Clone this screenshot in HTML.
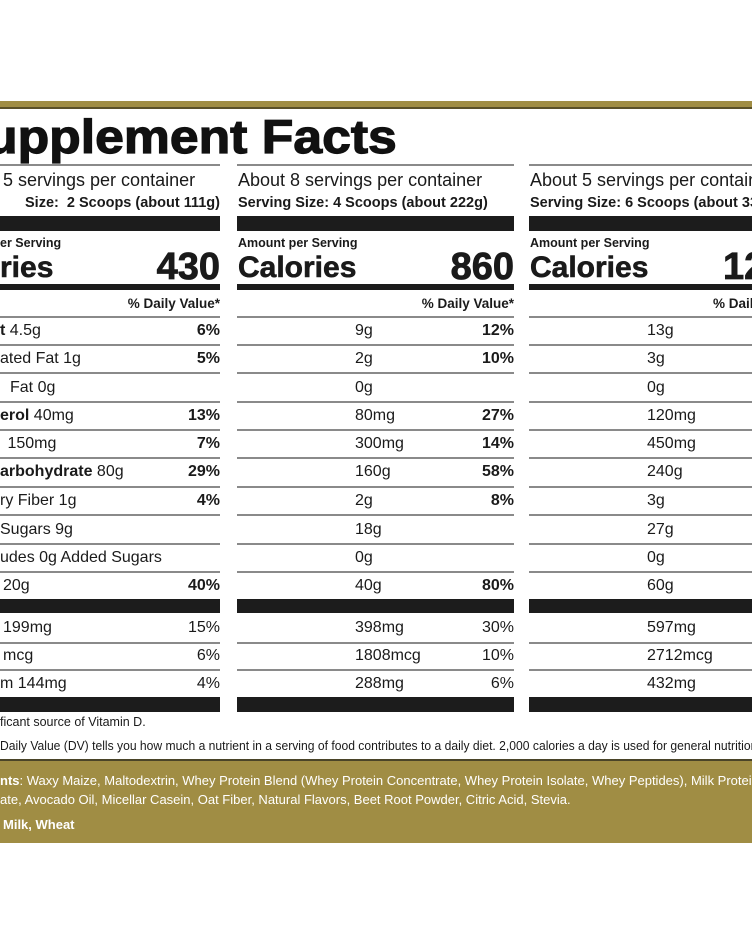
<!DOCTYPE html>
<html><head><meta charset="utf-8"><style>
*{margin:0;padding:0;box-sizing:border-box}
html,body{width:752px;height:940px;overflow:hidden}
body{background:#fff;position:relative;font-family:"Liberation Sans Narrow","Liberation Sans",sans-serif;color:#1a1a1a}
.a{position:absolute;white-space:nowrap}
.bar{position:absolute;background:#1c1c1c}
.ln{position:absolute;height:1.5px;background:#8a8a8a}
.r{text-align:right}
b{font-weight:bold}
.w{position:absolute;left:0;top:0;width:752px;height:940px;overflow:hidden}
</style></head><body>
<div class="w">
<div class="a" style="left:0;top:101px;width:752px;height:8px;background:#a08d44;border-bottom:2px solid #5a5028"></div>
<div class="a r" style="right:355px;top:108px;font-family:'Liberation Sans',sans-serif;font-weight:bold;font-size:47px;line-height:58px;color:#111;transform:scaleX(1.1);transform-origin:right center;-webkit-text-stroke:1.2px #111">Supplement Facts</div>

<!-- column 1 -->
<div class="ln" style="left:0;width:220px;top:164px"></div>
<div class="a" style="left:3px;top:169px;font-size:18px;line-height:22px">5 servings per container</div>
<div class="a r" style="right:532px;top:194px;font-size:14.5px;line-height:18px;font-weight:bold">Size:&nbsp; 2 Scoops (about 111g)</div>
<div class="bar" style="left:0;width:220px;top:216px;height:15px"></div>
<div class="a" style="left:0;top:236px;font-size:12.5px;line-height:15px;font-weight:bold">er Serving</div>
<div class="a" style="left:0;top:250px;font-size:30px;line-height:36px;font-weight:bold;-webkit-text-stroke:0.6px #1a1a1a">ries</div>
<div class="a r" style="right:532px;top:246px;font-size:38px;line-height:42px;font-weight:bold;-webkit-text-stroke:0.8px #1a1a1a">430</div>
<div class="bar" style="left:0;width:220px;top:284px;height:6px"></div>
<div class="a r" style="right:532px;top:295px;font-size:13.5px;line-height:17px;font-weight:bold">% Daily Value*</div>
<div class="ln" style="left:0;width:220px;top:316px"></div>

<!-- column 2 -->
<div class="ln" style="left:237px;width:277px;top:164px"></div>
<div class="a" style="left:238px;top:169px;font-size:18px;line-height:22px">About 8 servings per container</div>
<div class="a" style="left:238px;top:194px;font-size:14.5px;line-height:18px;font-weight:bold">Serving Size: 4 Scoops (about 222g)</div>
<div class="bar" style="left:237px;width:277px;top:216px;height:15px"></div>
<div class="a" style="left:238px;top:236px;font-size:12.5px;line-height:15px;font-weight:bold">Amount per Serving</div>
<div class="a" style="left:238px;top:250px;font-size:30px;line-height:36px;font-weight:bold;-webkit-text-stroke:0.6px #1a1a1a">Calories</div>
<div class="a r" style="right:238px;top:246px;font-size:38px;line-height:42px;font-weight:bold;-webkit-text-stroke:0.8px #1a1a1a">860</div>
<div class="bar" style="left:237px;width:277px;top:284px;height:6px"></div>
<div class="a r" style="right:238px;top:295px;font-size:13.5px;line-height:17px;font-weight:bold">% Daily Value*</div>
<div class="ln" style="left:237px;width:277px;top:316px"></div>

<!-- column 3 -->
<div class="ln" style="left:529px;width:230px;top:164px"></div>
<div class="a" style="left:530px;top:169px;font-size:18px;line-height:22px">About 5 servings per container</div>
<div class="a" style="left:530px;top:194px;font-size:14.5px;line-height:18px;font-weight:bold">Serving Size: 6 Scoops (about 333g)</div>
<div class="bar" style="left:529px;width:230px;top:216px;height:15px"></div>
<div class="a" style="left:530px;top:236px;font-size:12.5px;line-height:15px;font-weight:bold">Amount per Serving</div>
<div class="a" style="left:530px;top:250px;font-size:30px;line-height:36px;font-weight:bold;-webkit-text-stroke:0.6px #1a1a1a">Calories</div>
<div class="a" style="left:723px;top:246px;font-size:38px;line-height:42px;font-weight:bold;-webkit-text-stroke:0.8px #1a1a1a">1290</div>
<div class="bar" style="left:529px;width:230px;top:284px;height:6px"></div>
<div class="a" style="left:713px;top:295px;font-size:13.5px;line-height:17px;font-weight:bold">% Daily Value*</div>
<div class="ln" style="left:529px;width:230px;top:316px"></div>

<!-- rows -->
<div class="w" style="font-size:16px">
<div class="a" style="left:0;top:321px;line-height:20px"><b>t</b> 4.5g</div>
<div class="a" style="left:0;top:349px;line-height:20px">ated Fat 1g</div>
<div class="a" style="left:10px;top:378px;line-height:20px">Fat 0g</div>
<div class="a" style="left:0;top:406px;line-height:20px"><b>erol</b> 40mg</div>
<div class="a" style="left:3px;top:434px;line-height:20px">&nbsp;150mg</div>
<div class="a" style="left:0;top:462px;line-height:20px"><b>arbohydrate</b> 80g</div>
<div class="a" style="left:0;top:491px;line-height:20px">ry Fiber 1g</div>
<div class="a" style="left:0;top:520px;line-height:20px">Sugars 9g</div>
<div class="a" style="left:0;top:548px;line-height:20px">udes 0g Added Sugars</div>
<div class="a" style="left:3px;top:576px;line-height:20px">20g</div>

<div class="a r" style="right:532px;top:321px;line-height:20px;font-weight:bold">6%</div>
<div class="a r" style="right:532px;top:349px;line-height:20px;font-weight:bold">5%</div>
<div class="a r" style="right:532px;top:406px;line-height:20px;font-weight:bold">13%</div>
<div class="a r" style="right:532px;top:434px;line-height:20px;font-weight:bold">7%</div>
<div class="a r" style="right:532px;top:462px;line-height:20px;font-weight:bold">29%</div>
<div class="a r" style="right:532px;top:491px;line-height:20px;font-weight:bold">4%</div>
<div class="a r" style="right:532px;top:576px;line-height:20px;font-weight:bold">40%</div>

<div class="a" style="left:355px;top:321px;line-height:20px">9g</div>
<div class="a" style="left:355px;top:349px;line-height:20px">2g</div>
<div class="a" style="left:355px;top:378px;line-height:20px">0g</div>
<div class="a" style="left:355px;top:406px;line-height:20px">80mg</div>
<div class="a" style="left:355px;top:434px;line-height:20px">300mg</div>
<div class="a" style="left:355px;top:462px;line-height:20px">160g</div>
<div class="a" style="left:355px;top:491px;line-height:20px">2g</div>
<div class="a" style="left:355px;top:520px;line-height:20px">18g</div>
<div class="a" style="left:355px;top:548px;line-height:20px">0g</div>
<div class="a" style="left:355px;top:576px;line-height:20px">40g</div>

<div class="a r" style="right:238px;top:321px;line-height:20px;font-weight:bold">12%</div>
<div class="a r" style="right:238px;top:349px;line-height:20px;font-weight:bold">10%</div>
<div class="a r" style="right:238px;top:406px;line-height:20px;font-weight:bold">27%</div>
<div class="a r" style="right:238px;top:434px;line-height:20px;font-weight:bold">14%</div>
<div class="a r" style="right:238px;top:462px;line-height:20px;font-weight:bold">58%</div>
<div class="a r" style="right:238px;top:491px;line-height:20px;font-weight:bold">8%</div>
<div class="a r" style="right:238px;top:576px;line-height:20px;font-weight:bold">80%</div>

<div class="a" style="left:647px;top:321px;line-height:20px">13g</div>
<div class="a" style="left:647px;top:349px;line-height:20px">3g</div>
<div class="a" style="left:647px;top:378px;line-height:20px">0g</div>
<div class="a" style="left:647px;top:406px;line-height:20px">120mg</div>
<div class="a" style="left:647px;top:434px;line-height:20px">450mg</div>
<div class="a" style="left:647px;top:462px;line-height:20px">240g</div>
<div class="a" style="left:647px;top:491px;line-height:20px">3g</div>
<div class="a" style="left:647px;top:520px;line-height:20px">27g</div>
<div class="a" style="left:647px;top:548px;line-height:20px">0g</div>
<div class="a" style="left:647px;top:576px;line-height:20px">60g</div>

<div class="a" style="left:3px;top:618px;line-height:20px">199mg</div>
<div class="a" style="left:3px;top:646px;line-height:20px">mcg</div>
<div class="a" style="left:0;top:674px;line-height:20px">m 144mg</div>
<div class="a r" style="right:532px;top:618px;line-height:20px">15%</div>
<div class="a r" style="right:532px;top:646px;line-height:20px">6%</div>
<div class="a r" style="right:532px;top:674px;line-height:20px">4%</div>
<div class="a" style="left:355px;top:618px;line-height:20px">398mg</div>
<div class="a" style="left:355px;top:646px;line-height:20px">1808mcg</div>
<div class="a" style="left:355px;top:674px;line-height:20px">288mg</div>
<div class="a r" style="right:238px;top:618px;line-height:20px">30%</div>
<div class="a r" style="right:238px;top:646px;line-height:20px">10%</div>
<div class="a r" style="right:238px;top:674px;line-height:20px">6%</div>
<div class="a" style="left:647px;top:618px;line-height:20px">597mg</div>
<div class="a" style="left:647px;top:646px;line-height:20px">2712mcg</div>
<div class="a" style="left:647px;top:674px;line-height:20px">432mg</div>
</div>

<div class="ln" style="left:0;width:220px;top:344px"></div><div class="ln" style="left:237px;width:277px;top:344px"></div><div class="ln" style="left:529px;width:230px;top:344px"></div>
<div class="ln" style="left:0;width:220px;top:372px"></div><div class="ln" style="left:237px;width:277px;top:372px"></div><div class="ln" style="left:529px;width:230px;top:372px"></div>
<div class="ln" style="left:0;width:220px;top:401px"></div><div class="ln" style="left:237px;width:277px;top:401px"></div><div class="ln" style="left:529px;width:230px;top:401px"></div>
<div class="ln" style="left:0;width:220px;top:429px"></div><div class="ln" style="left:237px;width:277px;top:429px"></div><div class="ln" style="left:529px;width:230px;top:429px"></div>
<div class="ln" style="left:0;width:220px;top:457px"></div><div class="ln" style="left:237px;width:277px;top:457px"></div><div class="ln" style="left:529px;width:230px;top:457px"></div>
<div class="ln" style="left:0;width:220px;top:486px"></div><div class="ln" style="left:237px;width:277px;top:486px"></div><div class="ln" style="left:529px;width:230px;top:486px"></div>
<div class="ln" style="left:0;width:220px;top:514px"></div><div class="ln" style="left:237px;width:277px;top:514px"></div><div class="ln" style="left:529px;width:230px;top:514px"></div>
<div class="ln" style="left:0;width:220px;top:543px"></div><div class="ln" style="left:237px;width:277px;top:543px"></div><div class="ln" style="left:529px;width:230px;top:543px"></div>
<div class="ln" style="left:0;width:220px;top:571px"></div><div class="ln" style="left:237px;width:277px;top:571px"></div><div class="ln" style="left:529px;width:230px;top:571px"></div>
<div class="bar" style="left:0;width:220px;top:599px;height:14px"></div><div class="bar" style="left:237px;width:277px;top:599px;height:14px"></div><div class="bar" style="left:529px;width:230px;top:599px;height:14px"></div>
<div class="ln" style="left:0;width:220px;top:642px"></div><div class="ln" style="left:237px;width:277px;top:642px"></div><div class="ln" style="left:529px;width:230px;top:642px"></div>
<div class="ln" style="left:0;width:220px;top:669px"></div><div class="ln" style="left:237px;width:277px;top:669px"></div><div class="ln" style="left:529px;width:230px;top:669px"></div>
<div class="bar" style="left:0;width:220px;top:697px;height:15px"></div><div class="bar" style="left:237px;width:277px;top:697px;height:15px"></div><div class="bar" style="left:529px;width:230px;top:697px;height:15px"></div>

<div class="a" style="left:0;top:714px;font-size:12.5px;line-height:16px">ficant source of Vitamin D.</div>
<div class="a" style="left:0;top:738px;font-size:12.5px;line-height:16px;transform:scaleX(0.97);transform-origin:left center">Daily Value (DV) tells you how much a nutrient in a serving of food contributes to a daily diet. 2,000 calories a day is used for general nutrition advice.</div>

<div class="a" style="left:0;top:759px;width:752px;height:84px;background:#a08d44;border-top:2px solid #4a4428"></div>
<div class="a" style="left:0;top:773px;font-size:13px;line-height:16px;color:#fff"><b>nts</b>: Waxy Maize, Maltodextrin, Whey Protein Blend (Whey Protein Concentrate, Whey Protein Isolate, Whey Peptides), Milk Protein</div>
<div class="a" style="left:0;top:792px;font-size:13px;line-height:16px;color:#fff">ate, Avocado Oil, Micellar Casein, Oat Fiber, Natural Flavors, Beet Root Powder, Citric Acid, Stevia.</div>
<div class="a" style="left:3px;top:817px;font-size:13px;line-height:16px;color:#fff;font-weight:bold">Milk, Wheat</div>
</div>
</body></html>
